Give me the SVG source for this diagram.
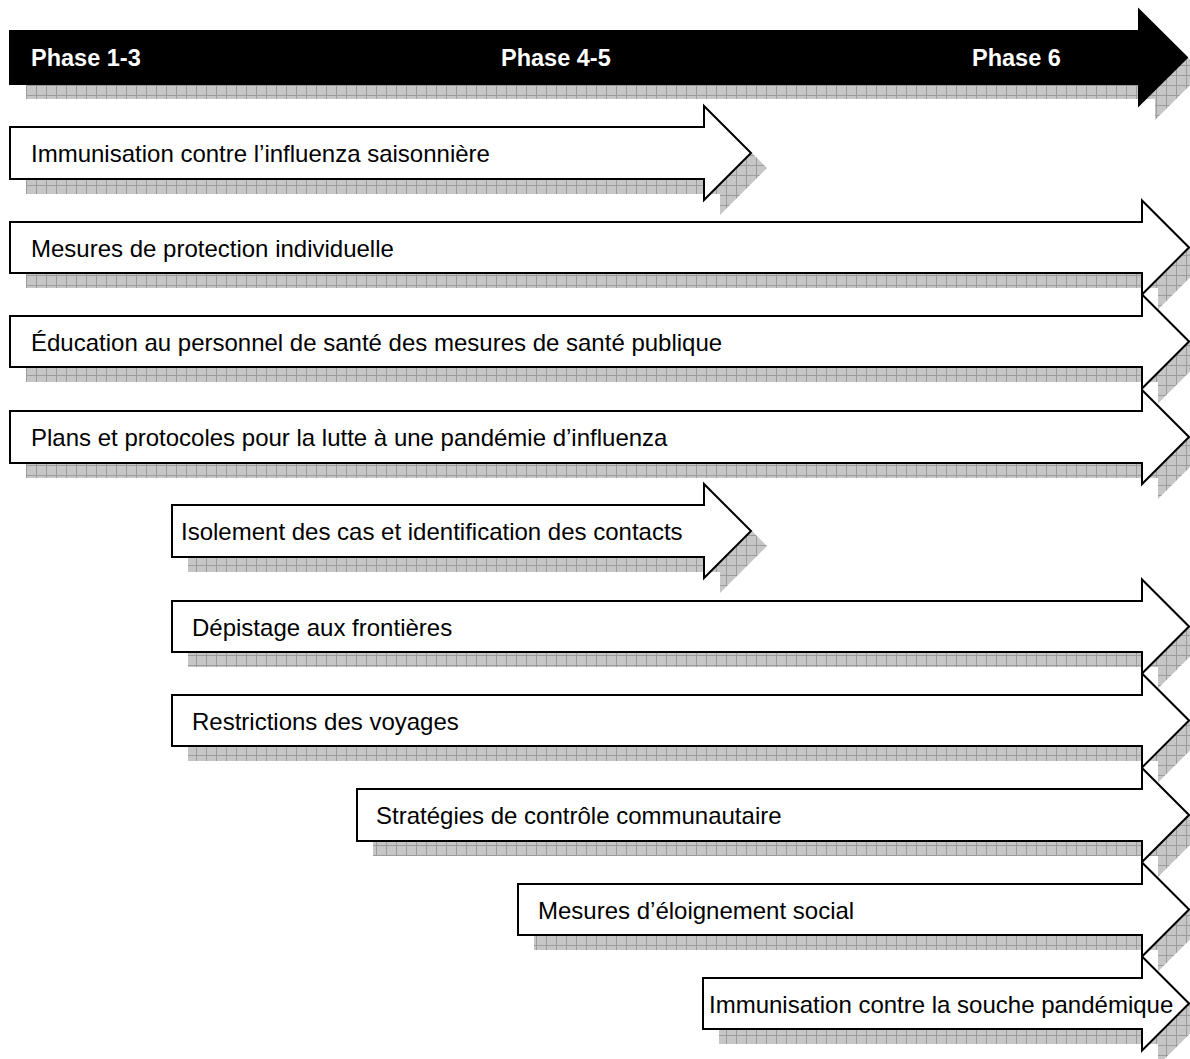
<svg xmlns="http://www.w3.org/2000/svg" width="1190" height="1059" viewBox="0 0 1190 1059">
<style>
.arw{fill:#fff;stroke:#000;stroke-width:2;stroke-linejoin:miter}
.blk{fill:#000;stroke:#000;stroke-width:2}
.shd{fill:url(#hatch);stroke:none}
.lbl{font-family:"Liberation Sans",Arial,sans-serif;font-size:24px;fill:#000}
.ph{font-family:"Liberation Sans",Arial,sans-serif;font-size:23.5px;font-weight:bold;fill:#fff}
</style>
<defs>
<pattern id="hatch" patternUnits="userSpaceOnUse" width="10" height="10">
<rect width="10" height="10" fill="#c6c6c6"/>
<path d="M0,0.5H10M0.5,0V10" stroke="#9c9c9c" stroke-width="1" fill="none"/>
</pattern>
</defs>
<g id="phases">
<path class="shd" transform="translate(16,15)" d="M10,31H1139V10L1187,57.5L1139,105V84H10Z"/>
<path class="blk" d="M10,31H1139V10L1187,57.5L1139,105V84H10Z"/>
<text class="ph" x="31" y="66">Phase 1-3</text>
<text class="ph" x="501" y="66">Phase 4-5</text>
<text class="ph" x="972" y="66">Phase 6</text>
</g>
<g id="a1">
<path class="shd" transform="translate(16,15)" d="M10,127H704V106L751,153L704,200V179H10Z"/>
<path class="arw" d="M10,127H704V106L751,153L704,200V179H10Z"/>
<text class="lbl" x="31" y="162">Immunisation contre l’influenza saisonnière</text>
</g>
<g id="a2">
<path class="shd" transform="translate(16,15)" d="M10,222H1142V200.5L1189,247.5L1142,294.5V273H10Z"/>
<path class="arw" d="M10,222H1142V200.5L1189,247.5L1142,294.5V273H10Z"/>
<text class="lbl" x="31" y="256.5">Mesures de protection individuelle</text>
</g>
<g id="a3">
<path class="shd" transform="translate(16,15)" d="M10,316H1142V294.5L1189,341.5L1142,388.5V367H10Z"/>
<path class="arw" d="M10,316H1142V294.5L1189,341.5L1142,388.5V367H10Z"/>
<text class="lbl" x="31" y="350.5">Éducation au personnel de santé des mesures de santé publique</text>
</g>
<g id="a4">
<path class="shd" transform="translate(16,15)" d="M10,411H1142V390L1189,437L1142,484V463H10Z"/>
<path class="arw" d="M10,411H1142V390L1189,437L1142,484V463H10Z"/>
<text class="lbl" x="31" y="446">Plans et protocoles pour la lutte à une pandémie d’influenza</text>
</g>
<g id="a5">
<path class="shd" transform="translate(16,15)" d="M172,505H704V484L751,531L704,578V557H172Z"/>
<path class="arw" d="M172,505H704V484L751,531L704,578V557H172Z"/>
<text class="lbl" x="181" y="540">Isolement des cas et identification des contacts</text>
</g>
<g id="a6">
<path class="shd" transform="translate(16,15)" d="M172,601H1142V579.5L1189,626.5L1142,673.5V652H172Z"/>
<path class="arw" d="M172,601H1142V579.5L1189,626.5L1142,673.5V652H172Z"/>
<text class="lbl" x="192" y="635.5">Dépistage aux frontières</text>
</g>
<g id="a7">
<path class="shd" transform="translate(16,15)" d="M172,695H1142V673.5L1189,720.5L1142,767.5V746H172Z"/>
<path class="arw" d="M172,695H1142V673.5L1189,720.5L1142,767.5V746H172Z"/>
<text class="lbl" x="192" y="729.5">Restrictions des voyages</text>
</g>
<g id="a8">
<path class="shd" transform="translate(16,15)" d="M357,789H1142V768L1189,815L1142,862V841H357Z"/>
<path class="arw" d="M357,789H1142V768L1189,815L1142,862V841H357Z"/>
<text class="lbl" x="376" y="824">Stratégies de contrôle communautaire</text>
</g>
<g id="a9">
<path class="shd" transform="translate(16,15)" d="M518,884H1142V862.5L1189,909.5L1142,956.5V935H518Z"/>
<path class="arw" d="M518,884H1142V862.5L1189,909.5L1142,956.5V935H518Z"/>
<text class="lbl" x="538" y="918.5">Mesures d’éloignement social</text>
</g>
<g id="a10">
<path class="shd" transform="translate(16,15)" d="M703,978H1142V956.5L1189,1003.5L1142,1050.5V1029H703Z"/>
<path class="arw" d="M703,978H1142V956.5L1189,1003.5L1142,1050.5V1029H703Z"/>
<text class="lbl" x="709" y="1012.5">Immunisation contre la souche pandémique</text>
</g>
<g id="connectors"/>
</svg>
